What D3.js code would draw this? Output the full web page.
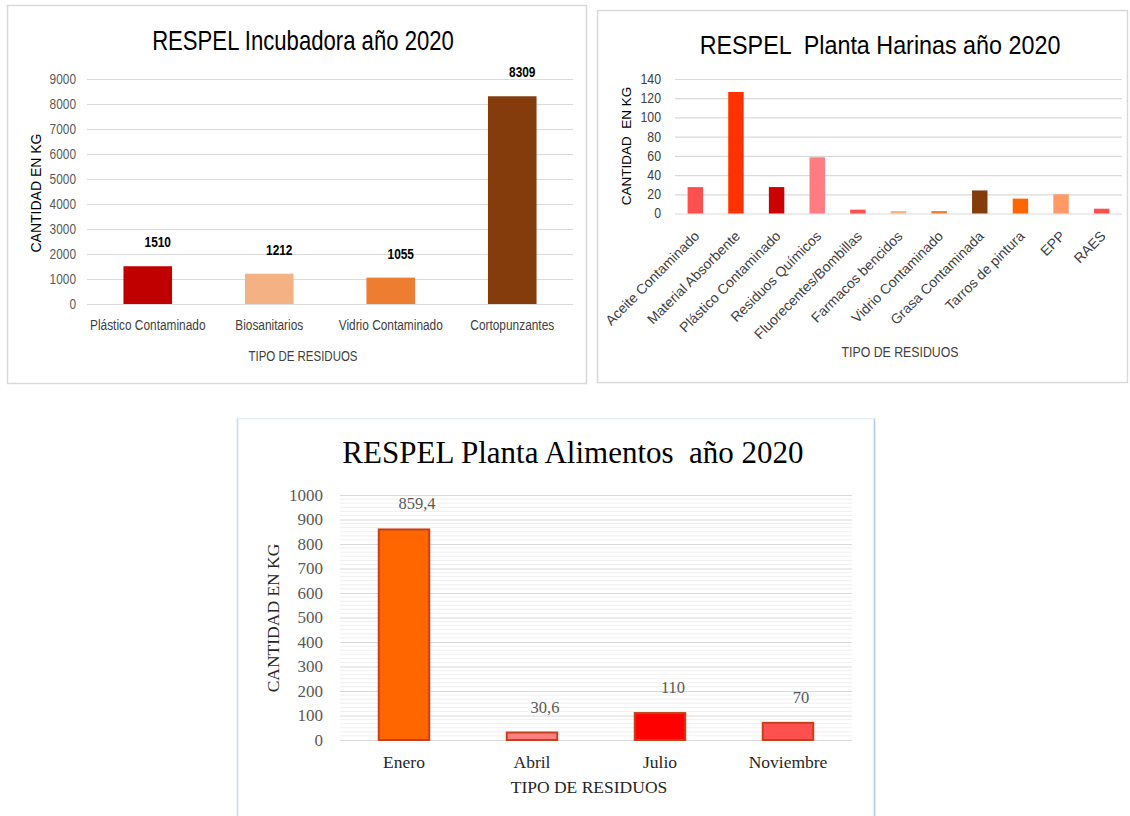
<!DOCTYPE html>
<html>
<head>
<meta charset="utf-8">
<script src="https://cdn.jsdelivr.net/npm/d3@7"></script>
<style>
  body { margin: 0; background: #fff; }
</style>
</head>
<body>
<div id="charts"></div>
<script>
// datos de cada grafica
const incubadoraTipos = ["Plástico Contaminado", "Biosanitarios", "Vidrio Contaminado", "Cortopunzantes"];
const incubadoraKg = [1510, 1212, 1055, 8309];
const incubadoraColores = ["#c00000", "#f4b183", "#ed7d31", "#843c0c"];

const harinasTipos = ["Aceite Contaminado", "Material Absorbente", "Plástico Contaminado", "Residuos Químicos",
  "Fluorecentes/Bombillas", "Farmacos bencidos", "Vidrio Contaminado", "Grasa Contaminada",
  "Tarros de pintura", "EPP", "RAES"];
const harinasKg = [27.5, 126.5, 27.5, 58.5, 4, 2.5, 2.5, 24, 15.5, 20, 5];
const harinasColores = ["#ff5050", "#ff3300", "#cc0000", "#ff7c80", "#ff5050", "#f4b183",
  "#ed7d31", "#843c0c", "#ff6600", "#ff9966", "#ff5050"];

const alimentosMeses = ["Enero", "Abril", "Julio", "Noviembre"];
const alimentosKg = [859.4, 30.6, 110, 70];
const alimentosColores = ["#ff6600", "#ff8080", "#ff0000", "#ff5050"];

const sans = "'Liberation Sans', Arial, sans-serif";
const serif = "'Liberation Serif', 'Times New Roman', serif";

const svg = d3.select("#charts")
  .append("svg")
    .attr("width", 1130)
    .attr("height", 816);

// texto horizontal algo comprimido (como calibri)
function label(g, x, y, str, size, sx, color, weight) {
  return g.append("text")
    .attr("transform", `translate(${x},${y}) scale(${sx},1)`)
    .attr("text-anchor", "middle")
    .style("font-family", sans)
    .style("font-size", size + "px")
    .style("font-weight", weight || "normal")
    .style("white-space", "pre")
    .attr("fill", color)
    .text(str);
}

// recuadros
svg.append("rect")
  .attr("x", 7.5).attr("y", 5.5).attr("width", 579).attr("height", 378)
  .attr("fill", "#fff").attr("stroke", "#d9d9d9").attr("stroke-width", 1.5);
svg.append("rect")
  .attr("x", 597.5).attr("y", 10.5).attr("width", 530).attr("height", 372)
  .attr("fill", "#fff").attr("stroke", "#d9d9d9").attr("stroke-width", 1.5);
svg.append("rect")
  .attr("x", 237.5).attr("y", 418.5).attr("width", 637).attr("height", 410)
  .attr("fill", "#fff").attr("stroke", "#e6ebf5").attr("stroke-width", 1.5);
svg.append("line").attr("x1", 237.5).attr("x2", 237.5).attr("y1", 419).attr("y2", 816)
  .attr("stroke", "#cfdbf0").attr("stroke-width", 1.5);
svg.append("line").attr("x1", 874.5).attr("x2", 874.5).attr("y1", 419).attr("y2", 816)
  .attr("stroke", "#b9cae8").attr("stroke-width", 1.5);

function styleAxis(g, font, size, color, pad, sx) {
  g.select(".domain").remove();
  g.selectAll(".tick line").attr("stroke", "#d9d9d9").attr("stroke-width", 1.2);
  g.selectAll(".tick text")
    .style("font-family", font)
    .style("font-size", size + "px")
    .attr("fill", color)
    .attr("x", -pad / sx)
    .attr("transform", `scale(${sx},1)`);
}

// ---------- RESPEL Incubadora ----------
{
  const g = svg.append("g");
  const x = d3.scaleBand().domain(incubadoraTipos).range([87, 573]).paddingInner(0.6).paddingOuter(0.3);
  const y = d3.scaleLinear().domain([0, 9000]).range([304, 79]);

  g.append("g")
    .attr("transform", "translate(87,0)")
    .call(d3.axisLeft(y).ticks(10).tickFormat(d3.format("d")).tickSize(-486))
    .call(ax => styleAxis(ax, sans, 14.5, "#595959", 11, 0.82));

  g.selectAll("rect.bar")
    .data(incubadoraKg)
    .join("rect")
      .attr("class", "bar")
      .attr("x", (d, i) => x(incubadoraTipos[i]))
      .attr("y", d => y(d))
      .attr("width", x.bandwidth())
      .attr("height", d => y(0) - y(d))
      .attr("fill", (d, i) => incubadoraColores[i]);

  incubadoraKg.forEach((d, i) => {
    label(g, x(incubadoraTipos[i]) + x.bandwidth() / 2 + 10, y(d) - 19, d, 14.5, 0.82, "#000", "bold");
  });

  incubadoraTipos.forEach(d => {
    label(g, x(d) + x.bandwidth() / 2, 330, d, 14.5, 0.82, "#404040");
  });

  label(g, 303, 50, "RESPEL Incubadora año 2020", 27, 0.82, "#000");
  label(g, 303, 361, "TIPO DE RESIDUOS", 14, 0.82, "#404040");

  g.append("text")
    .attr("transform", "translate(41,193) rotate(-90)")
    .attr("text-anchor", "middle")
    .style("font-family", sans).style("font-size", "14px")
    .attr("fill", "#000")
    .text("CANTIDAD EN KG");
}

// ---------- RESPEL Planta Harinas ----------
{
  const g = svg.append("g");
  const x = d3.scaleBand().domain(harinasTipos).range([675, 1122]).paddingInner(0.62).paddingOuter(0.31);
  const y = d3.scaleLinear().domain([0, 140]).range([213.5, 79]);

  g.append("g")
    .attr("transform", "translate(675,0)")
    .call(d3.axisLeft(y).ticks(7).tickFormat(d3.format("d")).tickSize(-447))
    .call(ax => styleAxis(ax, sans, 14, "#404040", 14, 0.88));

  g.selectAll("rect.bar")
    .data(harinasKg)
    .join("rect")
      .attr("class", "bar")
      .attr("x", (d, i) => x(harinasTipos[i]))
      .attr("y", d => y(d))
      .attr("width", x.bandwidth())
      .attr("height", d => y(0) - y(d))
      .attr("fill", (d, i) => harinasColores[i]);

  g.selectAll("text.cat")
    .data(harinasTipos)
    .join("text")
      .attr("class", "cat")
      .attr("transform", d => `translate(${x(d) + x.bandwidth() / 2 + 5},237) rotate(-45)`)
      .attr("text-anchor", "end")
      .style("font-family", sans).style("font-size", "14px")
      .attr("fill", "#404040")
      .text(d => d);

  label(g, 880, 54, "RESPEL  Planta Harinas año 2020", 26.5, 0.88, "#000");
  label(g, 900, 357, "TIPO DE RESIDUOS", 14, 0.88, "#404040");

  g.append("text")
    .attr("transform", "translate(631,146) rotate(-90)")
    .attr("text-anchor", "middle")
    .style("font-family", sans).style("font-size", "13.5px")
    .style("white-space", "pre")
    .attr("fill", "#000")
    .text("CANTIDAD  EN KG");
}

// ---------- RESPEL Planta Alimentos ----------
{
  const g = svg.append("g");
  const x = d3.scaleBand().domain(alimentosMeses).range([340, 852]).paddingInner(0.59).paddingOuter(0.295);
  const y = d3.scaleLinear().domain([0, 1000]).range([740, 495]);

  // lineas menores
  g.append("g")
    .selectAll("line")
    .data(d3.range(0, 1000, 100 / 6).filter((d, i) => i % 6 !== 0))
    .join("line")
      .attr("x1", 340).attr("x2", 852)
      .attr("y1", d => y(d)).attr("y2", d => y(d))
      .attr("stroke", "#efefef").attr("stroke-width", 1);

  g.append("g")
    .attr("transform", "translate(340,0)")
    .call(d3.axisLeft(y).ticks(10).tickFormat(d3.format("d")).tickSize(-512))
    .call(ax => styleAxis(ax, serif, 17, "#595959", 17, 1));

  g.selectAll("rect.bar")
    .data(alimentosKg)
    .join("rect")
      .attr("class", "bar")
      .attr("x", (d, i) => x(alimentosMeses[i]) + 1)
      .attr("y", d => y(d))
      .attr("width", x.bandwidth() - 2)
      .attr("height", d => y(0) - y(d))
      .attr("fill", (d, i) => alimentosColores[i])
      .attr("stroke", "#c8401a")
      .attr("stroke-width", 2);

  g.selectAll("text.val")
    .data(alimentosKg)
    .join("text")
      .attr("class", "val")
      .attr("x", (d, i) => x(alimentosMeses[i]) + x.bandwidth() / 2 + 13)
      .attr("y", d => y(d) - 20)
      .attr("text-anchor", "middle")
      .style("font-family", serif).style("font-size", "16.5px")
      .attr("fill", "#595959")
      .text(d => String(d).replace(".", ","));

  g.selectAll("text.cat")
    .data(alimentosMeses)
    .join("text")
      .attr("class", "cat")
      .attr("x", d => x(d) + x.bandwidth() / 2)
      .attr("y", 768)
      .attr("text-anchor", "middle")
      .style("font-family", serif).style("font-size", "17.5px")
      .attr("fill", "#262626")
      .text(d => d);

  g.append("text")
    .attr("x", 573).attr("y", 463)
    .attr("text-anchor", "middle")
    .style("font-family", serif).style("font-size", "31px")
    .style("white-space", "pre")
    .attr("fill", "#000")
    .text("RESPEL Planta Alimentos  año 2020");

  g.append("text")
    .attr("x", 589).attr("y", 793)
    .attr("text-anchor", "middle")
    .style("font-family", serif).style("font-size", "17.5px")
    .attr("fill", "#262626")
    .text("TIPO DE RESIDUOS");

  g.append("text")
    .attr("transform", "translate(279,618) rotate(-90)")
    .attr("text-anchor", "middle")
    .style("font-family", serif).style("font-size", "17.5px")
    .attr("fill", "#262626")
    .text("CANTIDAD EN KG");
}
</script>
</body>
</html>
